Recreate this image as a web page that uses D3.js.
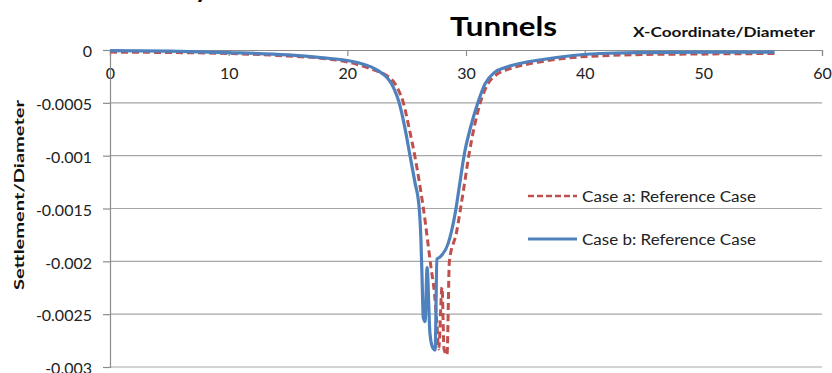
<!DOCTYPE html>
<html><head><meta charset="utf-8">
<script src="https://cdn.jsdelivr.net/npm/d3@7"></script>
<style>
html,body{margin:0;padding:0;background:#fff;}
svg{display:block;font-family:Lato,"Open Sans",sans-serif;}
</style></head>
<body>
<svg id="chart" width="832" height="373"></svg>
<script>
// ---- data ----
const xTicks = [0,10,20,30,40,50,60];
const yTicks = [0,-0.0005,-0.001,-0.0015,-0.002,-0.0025,-0.003];
const yTickLabels = ["0","-0.0005","-0.001","-0.0015","-0.002","-0.0025","-0.003"];

const caseAx = [0,5,10,15,18,20,21,22,22.7,23.3,23.85,24.3,24.7,25.2,25.7,26.1,26.4,26.75,27.05,27.35,27.55,27.7,27.98,28.15,28.4,28.6,29.2,29.5,29.9,30.25,30.7,31.2,31.8,32.6,33.4,34.2,36.2,39,42,45,50,56];
const caseAy = [-0.00002,-0.000024,-0.000033,-0.000057,-0.00008,-0.000113,-0.000142,-0.000179,-0.000208,-0.000241,-0.000293,-0.000377,-0.000491,-0.000736,-0.00101,-0.001274,-0.00149,-0.00179,-0.002057,-0.002311,-0.002594,-0.00283,-0.002245,-0.00283,-0.002887,-0.002,-0.001726,-0.001528,-0.001245,-0.000991,-0.000726,-0.0005,-0.00033,-0.000231,-0.000189,-0.00016,-0.000113,-0.0000708,-0.0000519,-0.0000425,-0.0000377,-0.000033];

const caseBx = [0,5,10,15,18,20,21,22,22.7,23.2,23.5,23.9,24.35,24.8,25.3,25.7,26.05,26.2,26.3,26.4,26.55,26.72,26.96,27.2,27.4,27.55,27.8,28.5,29.1,29.45,29.85,30.4,31.0,31.6,32.4,33.2,34,36.2,39,41.3,45,50,56];
const caseBy = [-0.000005,-0.00001,-0.000024,-0.000047,-0.000075,-0.000099,-0.000123,-0.00016,-0.000203,-0.000245,-0.000283,-0.000358,-0.000491,-0.000708,-0.00101,-0.001255,-0.00149,-0.00179,-0.00217,-0.00253,-0.00257,-0.00206,-0.00268,-0.00282,-0.00284,-0.00198,-0.00196,-0.00183,-0.001538,-0.001283,-0.000991,-0.000726,-0.0005,-0.000321,-0.000212,-0.00017,-0.000142,-0.0000943,-0.0000519,-0.000033,-0.000024,-0.00002,-0.00002];

const seriesNames = ["Case a: Reference Case","Case b: Reference Case"];
const seriesColors = ["#C0504D","#4F81BD"];

// ---- layout ----
const svg = d3.select("#chart");
const x = d3.scaleLinear().domain([0,60]).range([110,822]);
const y = d3.scaleLinear().domain([0,-0.003]).range([50,367]);
const gridColor = "#a6a6a6";

// gridlines
svg.append("g").selectAll("line").data(yTicks.slice(1)).join("line")
  .attr("x1",x(0)).attr("x2",x(60))
  .attr("y1",d=>y(d)).attr("y2",d=>y(d))
  .attr("stroke",gridColor).attr("stroke-width",1.2);

// x axis at y=0 (top)
const xAxis = d3.axisBottom(x).tickValues(xTicks).tickSize(6).tickPadding(12).tickFormat(d3.format("d"));
const gx = svg.append("g").attr("transform",`translate(0,${y(0)})`).call(xAxis);
gx.select(".domain").attr("stroke","#8c8c8c").attr("stroke-width",1.2);
gx.selectAll(".tick line").attr("stroke","#8c8c8c").attr("stroke-width",1.2);
gx.selectAll(".tick text").attr("font-size",16).attr("font-family","Lato").attr("fill","#222");

// y axis
const yAxis = d3.axisLeft(y).tickValues(yTicks).tickSize(7).tickPadding(11)
  .tickFormat((d,i)=>yTickLabels[i]);
const gy = svg.append("g").attr("transform",`translate(${x(0)},0)`).call(yAxis);
gy.select(".domain").attr("stroke","#8c8c8c").attr("stroke-width",1.2);
gy.selectAll(".tick line").attr("stroke","#8c8c8c").attr("stroke-width",1.2);
gy.selectAll(".tick text").attr("font-size",16).attr("font-family","Lato").attr("fill","#222").attr("dy","0.42em");

// lines
const line = d3.line().x(d=>x(d[0])).y(d=>y(d[1])).curve(d3.curveMonotoneX);
const dataA = caseAx.map((v,i)=>[v,caseAy[i]]);
const dataB = caseBx.map((v,i)=>[v,caseBy[i]]);

svg.append("path").datum(dataA).attr("d",line).attr("fill","none")
  .attr("stroke",seriesColors[0]).attr("stroke-width",3).attr("stroke-dasharray","7,4")
  .attr("stroke-linejoin","round");
svg.append("path").datum(dataB).attr("d",line).attr("fill","none")
  .attr("stroke",seriesColors[1]).attr("stroke-width",3.2)
  .attr("stroke-linejoin","round");

// legend
const legY = [196,239];
const leg = svg.append("g");
seriesNames.forEach((n,i)=>{
  leg.append("line").attr("x1",528).attr("x2",577).attr("y1",legY[i]).attr("y2",legY[i])
    .attr("stroke",seriesColors[i]).attr("stroke-width",i===0?2.5:3)
    .attr("stroke-dasharray",i===0?"6,3":null);
  leg.append("text").attr("x",582).attr("y",legY[i]+5.5).text(n)
    .attr("font-size",14.5).attr("fill","#222").attr("textLength",174).attr("lengthAdjust","spacingAndGlyphs");
});

// titles
svg.append("text").attr("x",195).attr("y",-2).text("y")
  .attr("font-size",26).attr("font-weight","bold").attr("fill","#000");
svg.append("text").attr("x",450).attr("y",36).text("Tunnels")
  .attr("font-size",26).attr("font-weight","bold").attr("fill","#000")
  .attr("textLength",107).attr("lengthAdjust","spacingAndGlyphs");
svg.append("text").attr("x",633).attr("y",37).text("X-Coordinate/Diameter")
  .attr("font-size",14).attr("font-weight","bold").attr("fill","#111")
  .attr("textLength",182).attr("lengthAdjust","spacingAndGlyphs");
svg.append("text").attr("transform","translate(24,290) rotate(-90)").text("Settlement/Diameter")
  .attr("font-size",14).attr("font-weight","bold").attr("fill","#111")
  .attr("textLength",190).attr("lengthAdjust","spacingAndGlyphs");
</script>
</body></html>
